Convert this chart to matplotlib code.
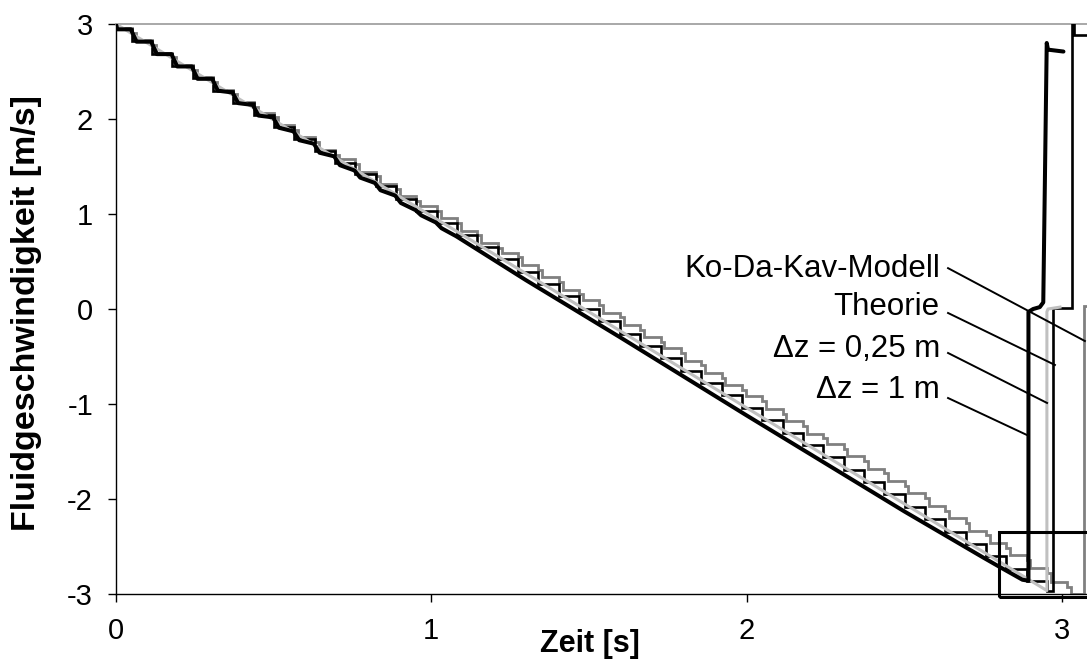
import matplotlib
matplotlib.use("Agg")
import matplotlib.pyplot as plt
from matplotlib.patches import Rectangle

plt.rcParams['font.family'] = ['Liberation Sans', 'DejaVu Sans']
plt.rcParams['axes.unicode_minus'] = False

# ---------------- data ----------------
# common switching times of the stepped solutions [s]
step_t = [0.05, 0.1145, 0.179, 0.2435, 0.308, 0.3725, 0.437, 0.5015, 0.566, 0.6305,
          0.695, 0.7595, 0.824, 0.8885, 0.953, 1.0175, 1.082, 1.1465, 1.211, 1.2755,
          1.34, 1.4045, 1.469, 1.5335, 1.598, 1.6625, 1.727, 1.7915, 1.856, 1.9205,
          1.985, 2.0495, 2.114, 2.1785, 2.243, 2.3075, 2.372, 2.4365, 2.501, 2.5655,
          2.63, 2.6945, 2.759, 2.8235, 2.888, 2.9525, 3.017]

# "Theorie" (thin black staircase): level held until the matching step time
theorie_levels = [2.95, 2.819, 2.689, 2.558, 2.428, 2.298, 2.168, 2.047, 1.917, 1.792,
                  1.666, 1.541, 1.416, 1.291, 1.160, 1.035, 0.905, 0.779, 0.649, 0.524,
                  0.394, 0.263, 0.133, 0.003, -0.128, -0.258, -0.388, -0.519, -0.649, -0.779,
                  -0.909, -1.040, -1.170, -1.300, -1.431, -1.561, -1.691, -1.821, -1.952, -2.082,
                  -2.212, -2.343, -2.473, -2.603, -2.734, -2.864]
theorie_tail_t = [2.9525, 2.972, 2.972, 3.032, 3.032, 3.038, 3.038, 3.10]
theorie_tail_v = [-2.97, -2.97, 0.01, 0.01, 3.0, 3.0, 2.88, 2.88]

# "Ko-Da-Kav-Modell" (medium grey staircase with small sub-steps)
kdk_levels = [2.96, 2.829, 2.699, 2.568, 2.438, 2.308, 2.178, 2.067, 1.937, 1.807,
              1.676, 1.576, 1.446, 1.316, 1.185, 1.085, 0.955, 0.824, 0.694, 0.594,
              0.464, 0.333, 0.203, 0.093, -0.038, -0.168, -0.298, -0.414, -0.544, -0.674,
              -0.804, -0.920, -1.050, -1.180, -1.311, -1.421, -1.551, -1.681, -1.812, -1.942,
              -2.072, -2.203, -2.333, -2.463, -2.594, -2.724, -2.874]
kdk_sub_drop = 0.05
kdk_sub_len = 0.012
kdk_tail_t = [3.07, 3.07, 3.10]
kdk_tail_v = [-3.0, 0.03, 0.03]

# "dz = 0,25 m" (light grey, smooth)
dz025_t = [0.0, 2.9525, 2.9525, 2.956, 2.994]
dz025_v = [3.0, -2.964, -0.03, 0.0, 0.02]

# "dz = 1 m" (thick black, wavy at the start)
dz1_t = [0.0, 0.004, 0.047, 0.065, 0.1115, 0.1295, 0.176, 0.194, 0.2405, 0.2585, 0.305,
         0.323, 0.3695, 0.3875, 0.434, 0.452, 0.4985, 0.5165, 0.563, 0.581, 0.6275,
         0.6455, 0.692, 0.71, 0.7565, 0.7745, 0.821, 0.839, 0.8855, 0.9035, 0.95,
         0.968, 1.0145, 1.0325, 1.079, 1.3, 1.6, 2.0, 2.5, 2.75, 2.80, 2.875, 2.894,
         2.894, 2.909, 2.93, 2.941, 2.952, 2.956, 3.005]
dz1_v = [3.0, 2.944, 2.944, 2.814, 2.814, 2.683, 2.683, 2.553, 2.553, 2.423, 2.423,
         2.298, 2.279, 2.167, 2.148, 2.036, 2.017, 1.908, 1.870, 1.777, 1.740,
         1.645, 1.607, 1.514, 1.458, 1.383, 1.327, 1.250, 1.194, 1.116, 1.041,
         0.986, 0.911, 0.850, 0.766, 0.304, -0.30, -1.12, -2.13, -2.615, -2.71, -2.85, -2.86,
         -0.03, 0.0, 0.02, 0.07, 2.80, 2.73, 2.71]

x_ticks = [0, 1, 2, 3]
y_ticks = [-3, -2, -1, 0, 1, 2, 3]

# labels: text, text baseline value, leader start, leader end
labels = [
    ("Ko-Da-Kav-Modell", 0.34, (2.639, 0.43), (3.073, -0.337)),
    ("Theorie", -0.063, (2.639, -0.042), (2.978, -0.589)),
    ("\u0394z = 0,25 m", -0.51, (2.639, -0.463), (2.953, -0.989)),
    ("\u0394z = 1 m", -0.94, (2.639, -0.937), (2.889, -1.326)),
]
label_right = 2.613

# zoom box (t0, v0, width, height)
box = (2.80, -3.03, 0.45, 0.68)

# ---------------- build polylines ----------------
th_x, th_y = [], []
prev = 0.0
for t, lv in zip(step_t, theorie_levels):
    th_x += [prev, t]
    th_y += [lv, lv]
    prev = t
th_x += theorie_tail_t
th_y += theorie_tail_v

kd_x, kd_y = [], []
prev = 0.0
for t, lv in zip(step_t, kdk_levels):
    kd_x += [prev, t, t, t + kdk_sub_len]
    kd_y += [lv, lv, lv - kdk_sub_drop, lv - kdk_sub_drop]
    prev = t + kdk_sub_len
kd_x += [prev] + kdk_tail_t
kd_y += [-3.0] + kdk_tail_v

# ---------------- figure ----------------
fig = plt.figure(figsize=(10.87, 6.62), dpi=100)
ax = fig.add_axes([116 / 1087, 68 / 662, 971 / 1087, 570 / 662])

ax.plot(kd_x, kd_y, color='#808080', lw=2.0, zorder=2, solid_joinstyle='miter')
ax.plot(th_x, th_y, color='black', lw=1.9, zorder=3, solid_joinstyle='miter')
ax.plot(dz025_t, dz025_v, color='#c0c0c0', lw=2.2, zorder=4)
ax.plot(dz1_t, dz1_v, color='black', lw=2.9, zorder=5,
        solid_joinstyle='round', solid_capstyle='round')

for txt, yb, (x0, y0), (x1, y1) in labels:
    ax.text(label_right, yb, txt, ha='right', va='baseline', fontsize=22.5, zorder=7)
    ax.plot([x0, x1], [y0, y1], color='black', lw=1.4, zorder=8, clip_on=False)

ax.add_patch(Rectangle((box[0], box[1]), box[2], box[3], fill=False,
                       edgecolor='black', lw=2.2, zorder=9, clip_on=False))

ax.set_xlim(0, 3.0797)
ax.set_ylim(-3, 3)
ax.set_xticks(x_ticks)
ax.set_yticks(y_ticks)
ax.tick_params(direction='out', length=6, width=1.0, labelsize=21, pad=10.5)
ax.spines['right'].set_visible(False)
ax.spines['top'].set_color('#999999')
ax.spines['top'].set_linewidth(1.2)
ax.spines['left'].set_linewidth(1.0)
ax.spines['bottom'].set_linewidth(1.0)

fig.text(27 / 1087, 1 - 313 / 662, "Fluidgeschwindigkeit [m/s]", rotation=90,
         ha='center', va='center', fontsize=24.5, fontweight='bold')
fig.text(590 / 1087, 1 - 644 / 662, "Zeit [s]", ha='center', va='center',
         fontsize=22, fontweight='bold')

fig.savefig("out.png", dpi=100)
